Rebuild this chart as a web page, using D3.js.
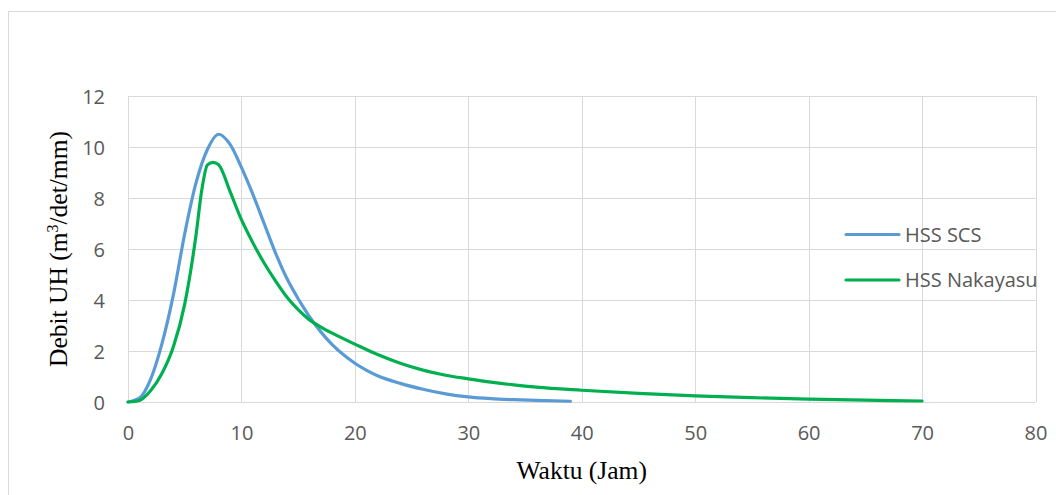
<!DOCTYPE html>
<html>
<head>
<meta charset="utf-8">
<script src="https://cdn.jsdelivr.net/npm/d3@7"></script>
<style>
  html, body { margin: 0; padding: 0; background: #fff; }
  svg { display: block; }
</style>
</head>
<body>
<svg id="chart" width="1056" height="495"></svg>
<script>
// ---- Data ----
const seriesNames = ["HSS SCS", "HSS Nakayasu"];
const scsTime = [0, 1, 2, 3, 4, 5, 6, 7, 8, 9, 10, 11, 12, 13, 14, 15, 16, 17, 18, 19, 20, 21, 22, 24, 26, 28, 30, 32, 34, 36, 39];
const scsQ    = [0, 0.15, 0.9, 2.3, 4.2, 6.6, 8.6, 9.9, 10.5, 10.1, 9.2, 8.15, 7.0, 5.85, 4.85, 4.05, 3.35, 2.75, 2.25, 1.85, 1.52, 1.25, 1.03, 0.73, 0.5, 0.32, 0.2, 0.13, 0.09, 0.06, 0.03];
const nakTime = [0, 1, 2, 3, 4, 5, 6, 6.5, 7, 7.5, 8, 9, 10, 11, 12, 13, 14, 15, 16, 17, 18, 20, 22, 24, 26, 28, 30, 32, 34, 36, 40, 45, 50, 55, 60, 65, 70];
const nakQ    = [0, 0.06, 0.45, 1.13, 2.17, 3.84, 6.56, 8.3, 9.3, 9.4, 9.3, 8.25, 7.15, 6.25, 5.45, 4.75, 4.12, 3.62, 3.22, 2.94, 2.7, 2.27, 1.86, 1.52, 1.25, 1.05, 0.91, 0.78, 0.67, 0.58, 0.46, 0.34, 0.24, 0.17, 0.11, 0.07, 0.04];
const xTicks = [0, 10, 20, 30, 40, 50, 60, 70, 80];
const yTicks = [0, 2, 4, 6, 8, 10, 12];
const xTitle = "Waktu (Jam)";
const colors = ["#5B9BD5", "#00B050"];

// ---- Layout ----
const svg = d3.select("#chart");
const plot = { left: 128, right: 1035.5, top: 96, bottom: 402 };
const x = d3.scaleLinear().domain([0, 80]).range([plot.left, plot.right]);
const y = d3.scaleLinear().domain([0, 12]).range([plot.bottom, plot.top]);

// chart frame
svg.append("rect")
  .attr("x", 8.5).attr("y", 11.5).attr("width", 1200).attr("height", 600)
  .attr("fill", "none").attr("stroke", "#D9D9D9").attr("stroke-width", 1);

const grid = svg.append("g");
grid.selectAll("line.h").data(yTicks).enter().append("line")
  .attr("x1", plot.left).attr("x2", plot.right)
  .attr("y1", d => Math.round(y(d)) + 0.5).attr("y2", d => Math.round(y(d)) + 0.5)
  .attr("stroke", "#D9D9D9").attr("stroke-width", 1);
grid.selectAll("line.v").data(xTicks).enter().append("line")
  .attr("y1", plot.top).attr("y2", plot.bottom)
  .attr("x1", d => Math.round(x(d)) + 0.5).attr("x2", d => Math.round(x(d)) + 0.5)
  .attr("stroke", "#D9D9D9").attr("stroke-width", 1);

// axes (labels only, via d3 axes)
const xAxis = d3.axisBottom(x).tickValues(xTicks).tickSize(0).tickPadding(0).tickFormat(d3.format("d"));
const gx = svg.append("g").attr("transform", `translate(0,${plot.bottom})`).call(xAxis);
gx.select(".domain").remove();
gx.selectAll("text")
  .attr("y", 32).attr("dy", "0.32em")
  .attr("font-family", "'Open Sans', sans-serif").attr("font-size", 20).attr("fill", "#595959");

const yAxis = d3.axisLeft(y).tickValues(yTicks).tickSize(0).tickPadding(0).tickFormat(d3.format("d"));
const gy = svg.append("g").attr("transform", `translate(${plot.left},0)`).call(yAxis);
gy.select(".domain").remove();
gy.selectAll("text")
  .attr("x", -23).attr("dy", "0.36em")
  .attr("font-family", "'Open Sans', sans-serif").attr("font-size", 20).attr("fill", "#595959");

// lines
const line = d3.line().x(d => x(d[0])).y(d => y(d[1])).curve(d3.curveMonotoneX);
const scsData = scsTime.map((t, i) => [t, scsQ[i]]);
const nakData = nakTime.map((t, i) => [t, nakQ[i]]);
[scsData, nakData].forEach((data, i) => {
  svg.append("path").datum(data)
    .attr("d", line)
    .attr("fill", "none")
    .attr("stroke", colors[i])
    .attr("stroke-width", 3.2)
    .attr("stroke-linecap", "round")
    .attr("stroke-linejoin", "round");
});

// legend
const legendY = [234.5, 280];
seriesNames.forEach((name, i) => {
  const g = svg.append("g");
  g.append("line")
    .attr("x1", 846).attr("x2", 899)
    .attr("y1", legendY[i]).attr("y2", legendY[i])
    .attr("stroke", colors[i]).attr("stroke-width", 3.2).attr("stroke-linecap", "round");
  g.append("text")
    .attr("x", 905).attr("y", legendY[i]).attr("dy", "0.36em")
    .attr("font-family", "'Open Sans', sans-serif").attr("font-size", 20).attr("fill", "#595959")
    .text(name);
});

// axis titles
svg.append("text")
  .attr("x", (plot.left + plot.right) / 2).attr("y", 479)
  .attr("text-anchor", "middle")
  .attr("font-family", "'Liberation Serif', 'Times New Roman', serif").attr("font-size", 25.5).attr("fill", "#000")
  .text(xTitle);

const yt = svg.append("text")
  .attr("transform", "translate(67,249) rotate(-90)")
  .attr("text-anchor", "middle")
  .attr("font-family", "'Liberation Serif', 'Times New Roman', serif").attr("font-size", 25.5).attr("fill", "#000");
yt.append("tspan").text("Debit UH (m");
yt.append("tspan").attr("dy", -9).attr("font-size", 16).text("3");
yt.append("tspan").attr("dy", 9).text("/det/mm)");
</script>
</body>
</html>
